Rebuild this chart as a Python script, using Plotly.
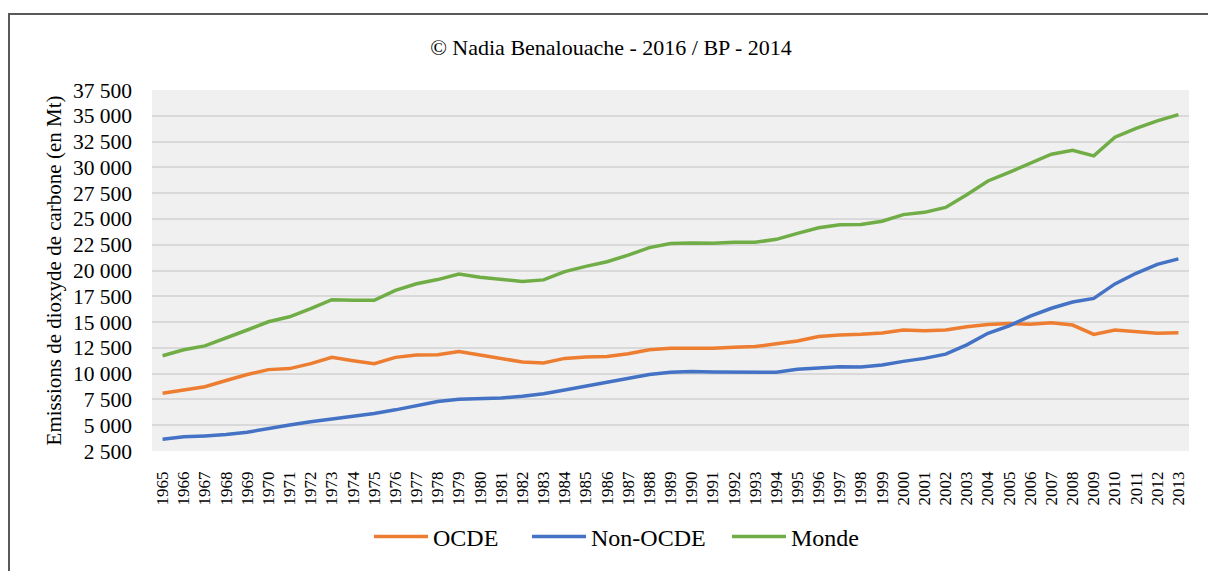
import plotly.graph_objects as go

years = [str(y) for y in range(1965, 2014)]

ocde = [8090, 8440, 8730, 9340, 9910, 10390, 10490, 10970, 11580, 11260,
        10970, 11580, 11800, 11830, 12150, 11800, 11450, 11130, 11030, 11480,
        11610, 11670, 11930, 12310, 12470, 12470, 12470, 12570, 12630, 12890,
        13170, 13590, 13750, 13810, 13940, 14230, 14170, 14230, 14550, 14770,
        14870, 14800, 14930, 14710, 13810, 14230, 14070, 13910, 13970]

non_ocde = [3650, 3870, 3960, 4090, 4320, 4630, 5020, 5340, 5590, 5850,
            6140, 6490, 6910, 7290, 7510, 7550, 7650, 7800, 8060, 8410,
            8790, 9180, 9560, 9910, 10130, 10200, 10170, 10170, 10100, 10140,
            10420, 10550, 10680, 10650, 10840, 11190, 11480, 11890, 12790, 13910,
            14640, 15570, 16340, 16940, 17300, 18700, 19730, 20590, 21130]

monde = [11740, 12310, 12690, 13430, 14230, 15030, 15510, 16310, 17170, 17110,
         17110, 18070, 18710, 19120, 19660, 19340, 19100, 18930, 19090, 19890,
         20400, 20850, 21490, 22220, 22610, 22670, 22640, 22730, 22730, 23020,
         23600, 24140, 24430, 24460, 24780, 25420, 25640, 26120, 27340, 28680,
         29510, 30370, 31270, 31650, 31110, 32930, 33790, 34500, 35110]

series_names = ["OCDE", "Non-OCDE", "Monde"]
series_colors = ["#ED7D31", "#4472C4", "#70AD47"]
y_ticks = [2500, 5000, 7500, 10000, 12500, 15000, 17500, 20000, 22500,
           25000, 27500, 30000, 32500, 35000, 37500]

FONT = "Liberation Serif"

W, H = 1208, 571
# reference-pixel plot area
PL, PR, PT, PB = 152, 1189, 90, 456
L, R, T, B = PL, W - PR, PT, H - PB
pw, ph = PR - PL, PB - PT

def px(x):
    return (x - PL) / pw

def py(y):
    return (PB - y) / ph

legend_ids = ["legend", "legend2", "legend3"]
legend_left = [375, 533, 733]   # reference x where each legend line starts

fig = go.Figure()
for name, vals, col, lid in zip(series_names, [ocde, non_ocde, monde],
                                series_colors, legend_ids):
    fig.add_trace(go.Scatter(
        x=years, y=vals, mode="lines", name=name, legend=lid,
        line=dict(color=col, width=3.5, shape="linear"),
    ))

legend_common = dict(
    orientation="h",
    yanchor="middle", y=py(543),
    xanchor="left",
    font=dict(family=FONT, size=24, color="#000000"),
    bgcolor="rgba(0,0,0,0)",
    itemwidth=54,
)

layout_legends = {}
for lid, lx in zip(legend_ids, legend_left):
    d = dict(legend_common)
    d["x"] = px(lx - 6)
    layout_legends[lid] = d

fig.update_layout(
    width=W, height=H,
    margin=dict(l=L, r=R, t=T, b=B, pad=0),
    paper_bgcolor="white",
    plot_bgcolor="#F0F0F0",
    separators=", ",
    font=dict(family=FONT, color="#000000", size=18),
    title=dict(
        text="© Nadia Benalouache - 2016 / BP - 2014",
        x=611 / W, xref="container", xanchor="center",
        y=1 - 47 / H, yref="container", yanchor="middle",
        font=dict(family=FONT, size=22, color="#000000"),
    ),
    showlegend=True,
    xaxis=dict(
        type="category",
        range=[-0.5, len(years) - 0.5],
        showgrid=False, zeroline=False, showline=False,
        tickangle=-90,
        ticks="", ticklabelstandoff=16,
        tickfont=dict(family=FONT, size=17, color="#000000"),
        fixedrange=True,
    ),
    yaxis=dict(
        range=[2500, 37500],
        tickmode="array", tickvals=y_ticks,
        tickformat=",d",
        showgrid=True, gridcolor="#D9D9D9", gridwidth=1.5,
        zeroline=False, showline=False,
        ticks="", ticklabelstandoff=19,
        tickfont=dict(family=FONT, size=21.5, color="#000000"),
        title=dict(text="Emissions de dioxyde de carbone (en Mt)",
                   font=dict(family=FONT, size=21, color="#000000"),
                   standoff=5),
    ),
    shapes=[dict(
        type="rect", xref="paper", yref="paper",
        x0=px(9), x1=px(1260), y0=py(640), y1=py(13),
        line=dict(color="#595959", width=2),
        fillcolor="rgba(0,0,0,0)", layer="above",
    )],
    **layout_legends,
)

fig.write_html(
    "out.html",
    config={"displayModeBar": False},
    post_script="document.body.style.margin='0';document.body.style.overflow='hidden';",
)
